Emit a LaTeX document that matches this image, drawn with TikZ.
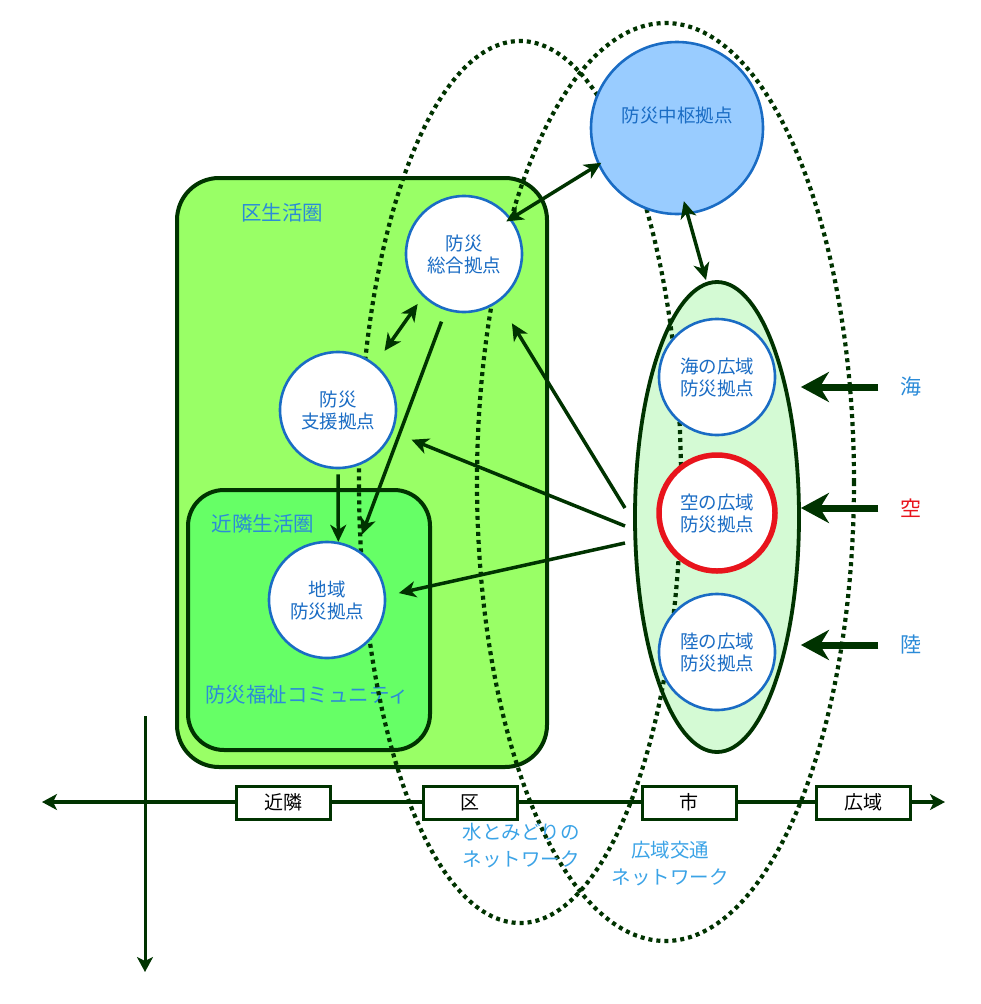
\documentclass[tikz,border=0pt]{standalone}
\usepackage{fontspec}
\setmainfont{Noto Sans CJK JP}
\usetikzlibrary{arrows.meta,shapes.geometric,calc}
\definecolor{dkgreen}{HTML}{003300}
\definecolor{areagreen}{HTML}{99FF66}
\definecolor{nbgreen}{HTML}{66FF66}
\definecolor{palegreen}{HTML}{D4FAD4}
\definecolor{nodeblue}{HTML}{1A6CC4}
\definecolor{labelblue}{HTML}{2B8BD8}
\definecolor{netblue}{HTML}{3BA3E6}
\definecolor{skyred}{HTML}{E8141C}
\definecolor{chusufill}{HTML}{99CCFF}
\tikzset{
  area/.style={draw=dkgreen, line width=4pt},
  base/.style={circle, draw=nodeblue, line width=2.6pt, fill=white, inner sep=0pt,
    minimum size=116pt, align=center, text=nodeblue,
    font=\fontsize{18.5}{22}\selectfont},
  netring/.style={draw=dkgreen, line width=4.2pt, dash pattern=on 4pt off 4pt},
  conn/.style={draw=dkgreen, line width=3.5pt, -{Stealth[length=17pt,width=16pt,inset=5pt]}},
  bconn/.style={draw=dkgreen, line width=3.5pt, {Stealth[length=17pt,width=16pt,inset=5pt]}-{Stealth[length=17pt,width=16pt,inset=5pt]}},
  inarrow/.style={draw=dkgreen, line width=7pt, -{Stealth[length=28pt,width=30pt,inset=9pt]}},
  scalebox/.style={draw=dkgreen, line width=3pt, fill=white, minimum width=94pt,
    minimum height=33pt, inner sep=0pt, font=\fontsize{19}{21}\selectfont},
  areatext/.style={text=labelblue, font=\fontsize{20.5}{24}\selectfont, inner sep=0pt},
  nettext/.style={text=netblue, align=center, font=\fontsize{19.5}{27}\selectfont, inner sep=0pt},
  srclabel/.style={font=\fontsize{21}{24}\selectfont, inner sep=0pt}
}
\begin{document}
\begin{tikzpicture}[x=1pt,y=-1pt]
\useasboundingbox (0,0) rectangle (980,1004);
% areas
\node[area, fill=areagreen, rounded corners=42pt, minimum width=370pt, minimum height=589pt] (kuarea) at (362,472.5) {};
\node[area, fill=nbgreen, rounded corners=36pt, minimum width=242pt, minimum height=260pt] (nbarea) at (309,620) {};
\node[ellipse, draw=dkgreen, line width=3.8pt, fill=palegreen, minimum width=164pt, minimum height=470pt, inner sep=0pt] (big) at (717,517) {};
% area labels
\node[areatext] (kulabel) at (282,213) {区生活圏};
\node[areatext] (nblabel) at (263,524) {近隣生活圏};
\node[areatext] (fukushi) at (307,695) {防災福祉コミュニティ};
% network rings
\draw[netring] (520,482) ellipse [x radius=161pt, y radius=441pt];
\draw[netring] (665.5,482) ellipse [x radius=188.5pt, y radius=459pt];
% axis
\coordinate (axL) at (42,802);
\coordinate (axR) at (945,802);
\coordinate (axT) at (145,716);
\coordinate (axB) at (145,972);
\draw[draw=dkgreen, line width=3.5pt, {Stealth[length=15pt,width=16pt,inset=4pt]}-{Stealth[length=15pt,width=16pt,inset=4pt]}] (axL) -- (axR);
\draw[draw=dkgreen, line width=3pt, -{Stealth[length=15pt,width=16pt,inset=4pt]}] (axT) -- (axB);
\node[scalebox] (kinrin) at (283,802.5) {近隣};
\node[scalebox] (ku) at (470,802.5) {区};
\node[scalebox] (shi) at (689,802.5) {市};
\node[scalebox] (koiki) at (863,802.5) {広域};
% network labels
\node[nettext] (net1) at (521,846) {水とみどりの\\ネットワーク};
\node[nettext] (net2) at (670,864) {広域交通\\ネットワーク};
% bases
\node[base] (sogo) at (464,254) {防災\\総合拠点};
\node[base] (shien) at (338,410) {防災\\支援拠点};
\node[base] (chiiki) at (327,600) {地域\\防災拠点};
\node[base, fill=chusufill, minimum size=172pt, font=\fontsize{18.5}{22}\selectfont] (chusu) at (677,128) {防災中枢拠点\\[4pt]};
\node[base] (umibase) at (717,377) {海の広域\\防災拠点};
\node[base, draw=skyred, line width=5.5pt] (sorabase) at (717,513) {空の広域\\防災拠点};
\node[base] (rikubase) at (717,652) {陸の広域\\防災拠点};
% source labels
\node[srclabel, text=labelblue] (umi) at (911,387) {海};
\node[srclabel, text=skyred] (sora) at (911,508) {空};
\node[srclabel, text=labelblue] (riku) at (911,645) {陸};
% arrows into the wide-area ellipse
\draw[inarrow, shorten <=22pt] (umi.west) -- (big.east |- umi.west);
\draw[inarrow, shorten <=22pt] (sora.west) -- (big.east |- sora.west);
\draw[inarrow, shorten <=22pt] (riku.west) -- (big.east |- riku.west);
% connectors
\draw[bconn, shorten <=-6pt, shorten >=-4pt] (sogo.37) -- (chusu.205);
\draw[bconn, shorten <=-14pt] (chusu.-83) -- ([xshift=-11pt]big.north);
\draw[bconn, shorten <=9pt, shorten >=16pt] (sogo.226) -- (shien.51);
\draw[conn, shorten <=12pt, shorten >=15pt] (sogo.252) -- (chiiki.60);
\draw[conn, shorten <=5pt] (shien.-90) -- (chiiki.79);
\coordinate (s1) at (625,508);
\coordinate (s2) at (625,526);
\coordinate (s3) at (625,543);
\draw[conn, shorten >=25pt] (s1) -- (sogo.-54);
\draw[conn, shorten >=20pt] (s2) -- (shien.-22);
\draw[conn, shorten >=13pt] (s3) -- (chiiki.4);
\end{tikzpicture}
\end{document}
